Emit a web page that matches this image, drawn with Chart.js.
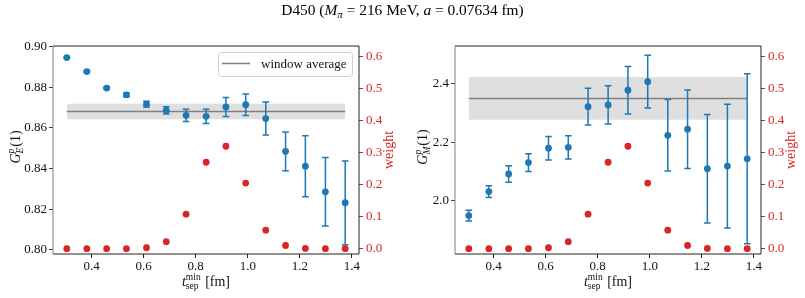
<!DOCTYPE html>
<html>
<head>
<meta charset="utf-8">
<script src="https://cdn.jsdelivr.net/npm/chart.js@4/dist/chart.umd.min.js"></script>
<style>
  body { margin: 0; background: #fff; width: 805px; height: 298px; position: relative; overflow: hidden; font-family: "Liberation Serif", serif; }
  #titulo { position: absolute; top: 0px; left: 0; width: 805px; text-align: center; font-size: 15.4px; line-height: 20px; color: #000; z-index: 2; }
  #titulo sub { font-size: 11px; line-height: 0; vertical-align: -3px; }
  .panel { position: absolute; top: 0; height: 298px; }
</style>
</head>
<body>
<div id="titulo">D450 (<i>M</i><sub><i>π</i></sub> = 216 MeV, <i>a</i> = 0.07634 fm)</div>
<div class="panel" style="left:0;width:400px"><canvas id="graficaE" width="400" height="298"></canvas></div>
<div class="panel" style="left:400px;width:405px"><canvas id="graficaM" width="405" height="298"></canvas></div>
<script>
// Eje X: t_sep^min en fm
const tSep = [0.305, 0.382, 0.458, 0.534, 0.611, 0.687, 0.763, 0.840, 0.916, 0.992, 1.069, 1.145, 1.221, 1.298, 1.374];
// G_E^p(1)
const gE = [0.8946, 0.8877, 0.8796, 0.8763, 0.8717, 0.8686, 0.8662, 0.8657, 0.8703, 0.8714, 0.8646, 0.8485, 0.8412, 0.8286, 0.8232];
const gEErr = [0.0003, 0.0004, 0.0006, 0.0009, 0.0014, 0.0018, 0.0030, 0.0035, 0.0047, 0.0053, 0.0081, 0.0095, 0.0150, 0.0168, 0.0206];
// G_M^p(1)
const gM = [1.950, 2.032, 2.092, 2.131, 2.180, 2.183, 2.322, 2.328, 2.378, 2.407, 2.224, 2.245, 2.110, 2.119, 2.144];
const gMErr = [0.018, 0.020, 0.028, 0.030, 0.040, 0.040, 0.0625, 0.065, 0.081, 0.090, 0.122, 0.134, 0.185, 0.211, 0.290];
// pesos (eje derecho)
const pesos = [0, 0, 0, 0, 0.003, 0.022, 0.108, 0.270, 0.320, 0.205, 0.058, 0.010, 0.001, 0, 0];
// promedio de ventana [valor, error]
const promedioE = [0.8681, 0.0038];
const promedioM = [2.350, 0.073];
// ticks
const ticksX = [0.4, 0.6, 0.8, 1.0, 1.2, 1.4];
const ticksE = [0.80, 0.82, 0.84, 0.86, 0.88, 0.90];
const ticksM = [2.0, 2.2, 2.4];
const ticksPeso = [0.0, 0.1, 0.2, 0.3, 0.4, 0.5, 0.6];

const AZUL = "#1f77b4";
const ROJO = "#d62728";
const FUENTE = '"Liberation Serif", serif';

// barras de error, se dibujan justo antes de los puntos azules
const barrasError = {
  id: "barrasError",
  beforeDatasetDraw(chart, args) {
    const ds = chart.data.datasets[args.index];
    if (!ds.errores) return;
    const { ctx, scales } = chart;
    const x = scales.x, y = scales.y;
    ctx.save();
    ctx.strokeStyle = AZUL;
    ctx.lineWidth = 1.5;
    ds.data.forEach((p, i) => {
      const px = x.getPixelForValue(p.x);
      const arriba = y.getPixelForValue(p.y + ds.errores[i]);
      const abajo = y.getPixelForValue(p.y - ds.errores[i]);
      ctx.beginPath();
      ctx.moveTo(px, arriba); ctx.lineTo(px, abajo);
      ctx.moveTo(px - 3.3, arriba); ctx.lineTo(px + 3.3, arriba);
      ctx.moveTo(px - 3.3, abajo); ctx.lineTo(px + 3.3, abajo);
      ctx.stroke();
    });
    ctx.restore();
  },
};

// texto con subindice y superindice: [base, sub, sup, resto, indices en italica]
const dibujarEtiqueta = (ctx, partes, x0, y0) => {
  const [base, sub, sup, resto, italicaIndices] = partes;
  const fBase = "italic 14px " + FUENTE;
  const fInd = (italicaIndices ? "italic " : "") + "9.5px " + FUENTE;
  const fResto = "14px " + FUENTE;
  ctx.font = fBase; const wBase = ctx.measureText(base).width;
  ctx.font = fInd; const wInd = Math.max(ctx.measureText(sub).width, ctx.measureText(sup).width);
  ctx.font = fResto; const wResto = ctx.measureText(resto).width;
  const total = wBase + wInd + 1 + wResto;
  let x = x0 - total / 2;
  ctx.textAlign = "left";
  ctx.textBaseline = "alphabetic";
  ctx.font = fBase; ctx.fillText(base, x, y0); x += wBase;
  ctx.font = fInd; ctx.fillText(sup, x, y0 - 6); ctx.fillText(sub, x, y0 + 3); x += wInd + 1;
  ctx.font = fResto; ctx.fillText(resto, x, y0);
};

const decorado = {
  id: "decorado",
  afterDraw(chart, args, opts) {
    const { ctx, chartArea: a } = chart;
    ctx.save();
    // marco
    ctx.lineWidth = 1;
    ctx.strokeStyle = "#222";
    ctx.beginPath();
    ctx.moveTo(a.left, a.top); ctx.lineTo(a.right, a.top); ctx.lineTo(a.right, a.bottom); ctx.lineTo(a.left, a.bottom);
    ctx.stroke();
    ctx.strokeStyle = "#808080";
    ctx.beginPath();
    ctx.moveTo(a.left, a.top); ctx.lineTo(a.left, a.bottom);
    ctx.stroke();
    ctx.fillStyle = "#111";
    // etiqueta eje X
    dibujarEtiqueta(ctx, ["t", "sep", "min", " [fm]", false], (a.left + a.right) / 2, 286);
    // etiqueta eje Y izquierdo
    ctx.save();
    ctx.translate(opts.xEtiquetaY, (a.top + a.bottom) / 2 - 3);
    ctx.rotate(-Math.PI / 2);
    dibujarEtiqueta(ctx, ["G", opts.sub, "p", "(1)", true], 0, 0);
    ctx.restore();
    // etiqueta eje Y derecho
    ctx.save();
    ctx.translate(a.right + 34, (a.top + a.bottom) / 2);
    ctx.rotate(-Math.PI / 2);
    ctx.fillStyle = ROJO;
    ctx.font = "14px " + FUENTE;
    ctx.textAlign = "center";
    ctx.fillText("weight", 0, 0);
    ctx.restore();
    // leyenda
    if (opts.leyenda) {
      ctx.fillStyle = "rgba(255,255,255,0.8)";
      ctx.strokeStyle = "#d0d0d0";
      ctx.lineWidth = 1;
      ctx.beginPath();
      ctx.roundRect(218.5, 52.5, 134, 24, 3);
      ctx.fill();
      ctx.stroke();
      ctx.strokeStyle = "#808080";
      ctx.lineWidth = 1.5;
      ctx.beginPath();
      ctx.moveTo(222, 63.5); ctx.lineTo(250, 63.5);
      ctx.stroke();
      ctx.fillStyle = "#111";
      ctx.font = "13px " + FUENTE;
      ctx.textAlign = "left";
      ctx.fillText("window average", 261, 68);
    }
    ctx.restore();
  },
};

const crearPanel = (idCanvas, valores, errores, promedio, ticksY, minY, maxY, decimales, opciones) => {
  const puntos = tSep.map((t, i) => ({ x: t, y: valores[i] }));
  const puntosPeso = tSep.map((t, i) => ({ x: t, y: pesos[i] }));
  const x0 = tSep[0], x1 = tSep[tSep.length - 1];
  const fuenteTicks = { family: FUENTE, size: 13 };
  return new Chart(document.getElementById(idCanvas), {
    type: "scatter",
    data: {
      datasets: [
        {
          type: "line",
          data: [{ x: x0, y: promedio[0] + promedio[1] }, { x: x1, y: promedio[0] + promedio[1] }],
          borderColor: "transparent", borderWidth: 0, pointRadius: 0,
          fill: "+1", backgroundColor: "rgba(128,128,128,0.25)", order: 6,
        },
        {
          type: "line",
          data: [{ x: x0, y: promedio[0] - promedio[1] }, { x: x1, y: promedio[0] - promedio[1] }],
          borderColor: "transparent", borderWidth: 0, pointRadius: 0, fill: false, order: 5,
        },
        {
          type: "line",
          data: [{ x: x0, y: promedio[0] }, { x: x1, y: promedio[0] }],
          borderColor: "#808080", borderWidth: 1.5, pointRadius: 0, fill: false, order: 4,
        },
        {
          data: puntos, errores: errores,
          pointBackgroundColor: AZUL, pointBorderColor: AZUL, pointBorderWidth: 0, pointRadius: 3.4, order: 2,
        },
        {
          data: puntosPeso, yAxisID: "y2",
          pointBackgroundColor: ROJO, pointBorderColor: ROJO, pointBorderWidth: 0, pointRadius: 3.4, order: 1,
        },
      ],
    },
    options: {
      responsive: false,
      animation: false,
      events: [],
      layout: { padding: { top: 46, left: 0, right: 0, bottom: 0 } },
      plugins: { legend: { display: false }, tooltip: { enabled: false }, decorado: opciones },
      scales: {
        x: {
          type: "linear", min: 0.252, max: 1.427, position: "bottom",
          afterBuildTicks: (s) => { s.ticks = ticksX.map((v) => ({ value: v })); },
          afterFit: (s) => { s.height = 44; },
          grid: { drawOnChartArea: false, tickLength: 4, tickColor: "#222" },
          border: { display: false },
          ticks: { color: "#111", font: fuenteTicks, padding: 1, maxRotation: 0, autoSkip: false, callback: (v) => v.toFixed(1) },
        },
        y: {
          type: "linear", min: minY, max: maxY, position: "left",
          afterBuildTicks: (s) => { s.ticks = ticksY.map((v) => ({ value: v })); },
          afterFit: (s) => { s.width = opciones.anchoIzq; },
          grid: { drawOnChartArea: false, tickLength: 4, tickColor: "#444" },
          border: { display: false },
          ticks: { color: "#111", font: fuenteTicks, padding: 2, autoSkip: false, callback: (v) => v.toFixed(decimales) },
        },
        y2: {
          type: "linear", min: -0.0165, max: 0.633, position: "right",
          afterBuildTicks: (s) => { s.ticks = ticksPeso.map((v) => ({ value: v })); },
          afterFit: (s) => { s.width = opciones.anchoDer; },
          grid: { drawOnChartArea: false, tickLength: 4, tickColor: ROJO },
          border: { display: false },
          ticks: { color: ROJO, font: fuenteTicks, padding: 3, autoSkip: false, callback: (v) => v.toFixed(1) },
        },
      },
    },
    plugins: [barrasError, decorado],
  });
};

crearPanel("graficaE", gE, gEErr, promedioE, ticksE, 0.798, 0.9003, 2,
  { anchoIzq: 53, anchoDer: 41, xEtiquetaY: 20, sub: "E", leyenda: true });
crearPanel("graficaM", gM, gMErr, promedioM, ticksM, 1.819, 2.529, 1,
  { anchoIzq: 55, anchoDer: 44, xEtiquetaY: 27, sub: "M", leyenda: false });
</script>
</body>
</html>
